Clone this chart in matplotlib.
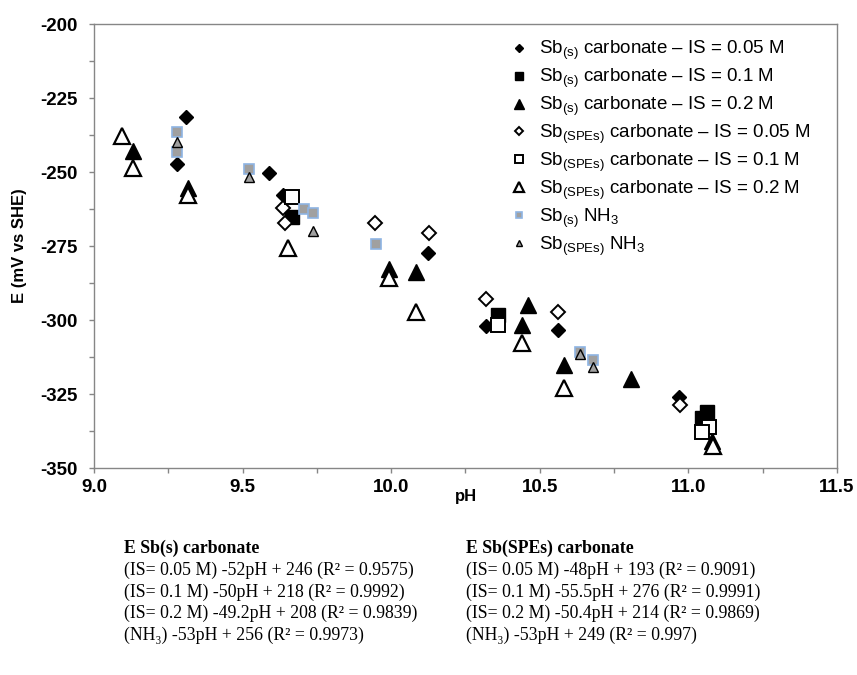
import matplotlib
matplotlib.use("Agg")
import matplotlib.pyplot as plt
from matplotlib.ticker import MultipleLocator, FormatStrFormatter

plt.rcParams['font.family'] = ['Liberation Sans', 'DejaVu Sans']
plt.rcParams['mathtext.fontset'] = 'custom'
plt.rcParams['mathtext.rm'] = 'Liberation Sans'
plt.rcParams['mathtext.it'] = 'Liberation Sans:italic'
plt.rcParams['mathtext.bf'] = 'Liberation Sans:bold'
plt.rcParams['axes.unicode_minus'] = False

# ---- data (pH, E in mV vs SHE) ----
s005_ph = [9.31, 9.28, 9.59, 9.635, 10.125, 10.32, 10.56, 10.97]
s005_e = [-231.3, -247.3, -250.2, -257.8, -277.5, -302.0, -303.4, -326.1]

s01_ph = [9.665, 10.36, 11.063, 11.046]
s01_e = [-265.1, -298.3, -331.0, -333.2]

s02_ph = [9.13, 9.315, 9.994, 10.084, 10.46, 10.44, 10.582, 10.807, 11.08]
s02_e = [-242.8, -255.5, -282.9, -283.7, -295.0, -301.7, -315.2, -320.0, -341.0]

p005_ph = [9.637, 9.643, 9.946, 10.126, 10.32, 10.561, 10.973]
p005_e = [-262.3, -267.3, -267.3, -270.7, -293.0, -297.2, -328.7]

p01_ph = [9.666, 10.36, 11.07, 11.046]
p01_e = [-258.6, -301.7, -336.3, -337.7]

p02_ph = [9.093, 9.13, 9.317, 9.654, 9.994, 10.084, 10.44, 10.582, 11.082]
p02_e = [-237.8, -248.8, -257.8, -275.8, -285.9, -297.2, -307.9, -323.1, -342.6]

snh3_ph = [9.28, 9.28, 9.523, 9.705, 9.736, 9.948, 10.636, 10.679]
snh3_e = [-236.5, -243.1, -249.0, -262.6, -264.0, -274.3, -310.7, -313.5]

pnh3_ph = [9.28, 9.52, 9.736, 10.636, 10.679]
pnh3_e = [-239.8, -251.8, -269.8, -311.6, -315.8]

labels = [
    r'Sb$_{\mathrm{(s)}}$ carbonate – IS = 0.05 M',
    r'Sb$_{\mathrm{(s)}}$ carbonate – IS = 0.1 M',
    r'Sb$_{\mathrm{(s)}}$ carbonate – IS = 0.2 M',
    r'Sb$_{\mathrm{(SPEs)}}$ carbonate – IS = 0.05 M',
    r'Sb$_{\mathrm{(SPEs)}}$ carbonate – IS = 0.1 M',
    r'Sb$_{\mathrm{(SPEs)}}$ carbonate – IS = 0.2 M',
    r'Sb$_{\mathrm{(s)}}$ NH$_{\mathrm{3}}$',
    r'Sb$_{\mathrm{(SPEs)}}$ NH$_{\mathrm{3}}$',
]

xticks = [9.0, 9.5, 10.0, 10.5, 11.0, 11.5]
yticks = [-350, -325, -300, -275, -250, -225, -200]

eq_left_title = 'E Sb(s) carbonate'
eq_left = ['(IS= 0.05 M) -52pH + 246 (R² = 0.9575)',
           '(IS= 0.1 M) -50pH + 218 (R² = 0.9992)',
           '(IS= 0.2 M) -49.2pH + 208 (R² = 0.9839)',
           '(NH₃) -53pH + 256 (R² = 0.9973)']
eq_right_title = 'E Sb(SPEs) carbonate'
eq_right = ['(IS= 0.05 M) -48pH + 193 (R² = 0.9091)',
            '(IS= 0.1 M) -55.5pH + 276 (R² = 0.9991)',
            '(IS= 0.2 M) -50.4pH + 214 (R² = 0.9869)',
            '(NH₃) -53pH + 249 (R² = 0.997)']

W, H = 857, 675
fig = plt.figure(figsize=(W / 100, H / 100), dpi=100)
ax = fig.add_axes([94 / W, 1 - 468 / H, (837 - 94) / W, (468 - 24) / H])

ax.plot(s005_ph, s005_e, 'D', ms=7, mfc='black', mec='black', label=labels[0])
ax.plot(s01_ph, s01_e, 's', ms=9.5, mfc='black', mec='black', label=labels[1])
ax.plot(s02_ph, s02_e, '^', ms=11, mfc='black', mec='black', label=labels[2])
ax.plot(p005_ph, p005_e, 'D', ms=7, mfc='white', mec='black', mew=1.4, label=labels[3])
ax.plot(p01_ph, p01_e, 's', ms=9.5, mfc='white', mec='black', mew=1.4, label=labels[4])
ax.plot(p02_ph, p02_e, '^', ms=11, mfc='white', mec='black', mew=1.6, label=labels[5])
ax.plot(snh3_ph, snh3_e, 's', ms=6.5, mfc='#a0a0a0', mec='#8eb4e3', mew=1.2, label=labels[6])
ax.plot(pnh3_ph, pnh3_e, '^', ms=6.5, mfc='#a0a0a0', mec='black', mew=1.0, label=labels[7])

ax.set_xlim(9.0, 11.5)
ax.set_ylim(-350, -200)
ax.set_xticks(xticks)
ax.set_yticks(yticks)
ax.xaxis.set_minor_locator(MultipleLocator(0.25))
ax.yaxis.set_minor_locator(MultipleLocator(12.5))
ax.xaxis.set_major_formatter(FormatStrFormatter('%.1f'))
ax.yaxis.set_major_formatter(FormatStrFormatter('%d'))
spine_c = '#868686'
for sp in ax.spines.values():
    sp.set_color(spine_c)
    sp.set_linewidth(1.0)
ax.tick_params(which='both', direction='out', color=spine_c, width=1.0, length=3.5)
ax.tick_params(axis='x', which='major', pad=4.5, labelsize=13.5)
ax.tick_params(axis='y', which='major', pad=8, labelsize=13.5)
for lab in ax.get_xticklabels() + ax.get_yticklabels():
    lab.set_fontweight('bold')

ax.set_xlabel('pH', fontsize=12, fontweight='bold')
ax.xaxis.label.set_va('center')
ax.xaxis.set_label_coords(0.5, (468 - 497) / 444)
ax.set_ylabel('E (mV vs SHE)', fontsize=12, fontweight='bold')
ax.yaxis.label.set_va('center')
ax.yaxis.set_label_coords((20 - 94) / 743, 0.5)

leg = ax.legend(loc='upper left', bbox_to_anchor=(496 / W, 1 - 26 / H),
                bbox_transform=fig.transFigure, frameon=False, fontsize=13.5,
                markerscale=0.6, handlelength=1.0, handletextpad=0.6,
                labelspacing=0.25, borderpad=0.2)

serif = ['Liberation Serif', 'DejaVu Serif']
lx, rx = 124 / W, 466 / W
ys = [548, 570, 592, 613, 635]
fig.text(lx, 1 - ys[0] / H, eq_left_title, family=serif, fontsize=12.8,
         fontweight='bold', va='center')
fig.text(rx, 1 - ys[0] / H, eq_right_title, family=serif, fontsize=12.8,
         fontweight='bold', va='center')
for i in range(4):
    fig.text(lx, 1 - ys[i + 1] / H, eq_left[i], family=serif, fontsize=12.8, va='center')
    fig.text(rx, 1 - ys[i + 1] / H, eq_right[i], family=serif, fontsize=12.8, va='center')

fig.savefig('out.png', dpi=100)
